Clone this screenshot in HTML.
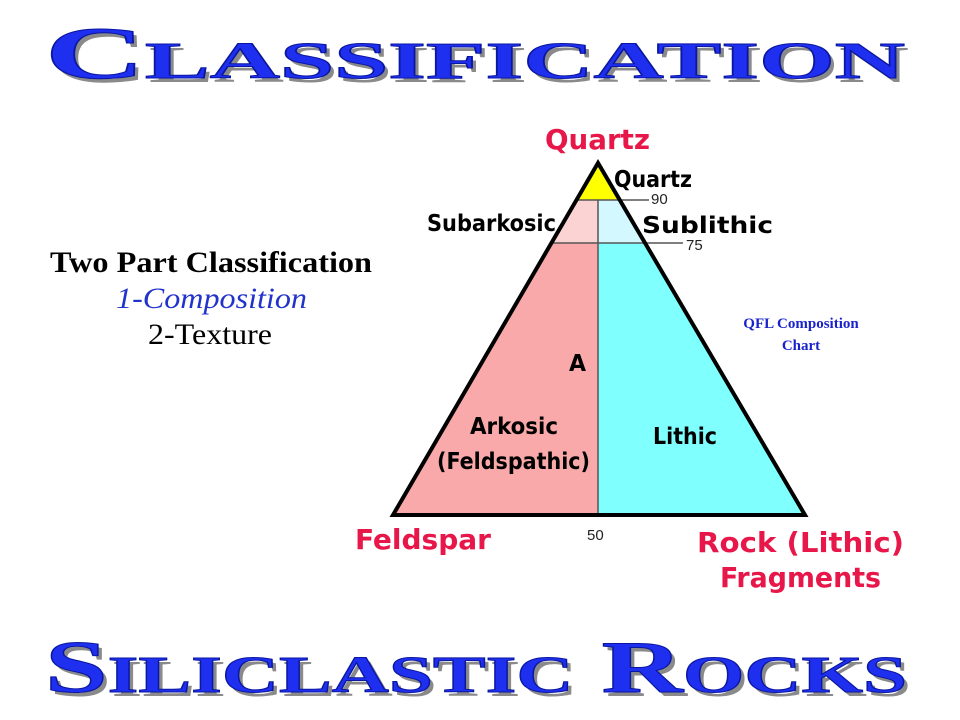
<!DOCTYPE html>
<html><head><meta charset="utf-8"><style>
html,body{margin:0;padding:0;background:#fff;}
svg{display:block;}
</style></head><body>
<svg width="960" height="720" viewBox="0 0 960 720" xmlns="http://www.w3.org/2000/svg">
<rect width="960" height="720" fill="#fff"/>
<!-- titles -->
<g font-family="Liberation Serif, serif" font-weight="bold" font-size="74">
<text x="49" y="82" fill="#8a8a8a" textLength="860" lengthAdjust="spacingAndGlyphs" style="font-variant:small-caps">Classification</text>
<text x="45" y="78" fill="#1f2ff0" stroke="#0a17a0" stroke-width="1" textLength="860" lengthAdjust="spacingAndGlyphs" style="font-variant:small-caps">Classification</text>
<text x="49" y="696" fill="#8a8a8a" textLength="862" lengthAdjust="spacingAndGlyphs" style="font-variant:small-caps">Siliclastic Rocks</text>
<text x="45" y="692" fill="#1f2ff0" stroke="#0a17a0" stroke-width="1" textLength="862" lengthAdjust="spacingAndGlyphs" style="font-variant:small-caps">Siliclastic Rocks</text>
</g>
<!-- left text -->
<g font-family="Liberation Serif, serif" font-size="30">
<text x="50" y="272" font-weight="bold" fill="#000" textLength="322" lengthAdjust="spacingAndGlyphs">Two Part Classification</text>
<text x="116" y="308" font-style="italic" fill="#2233cc" textLength="191" lengthAdjust="spacingAndGlyphs">1-Composition</text>
<text x="148" y="344" fill="#000" textLength="124" lengthAdjust="spacingAndGlyphs">2-Texture</text>
</g>
<g font-family="Liberation Serif, serif" font-size="15" font-weight="bold" fill="#1a22cc" text-anchor="middle">
<text x="801" y="328">QFL Composition</text>
<text x="801" y="350">Chart</text>
</g>
<!-- triangle fills -->
<polygon points="598,163 576.5,200 619.8,200" fill="#ffff00"/>
<polygon points="576.5,200 598,200 598,243 551.4,243" fill="#fcd3d3"/>
<polygon points="598,200 619.8,200 645,243 598,243" fill="#d4f8ff"/>
<polygon points="551.4,243 598,243 598,515 393,515" fill="#f9a9a9"/>
<polygon points="598,243 645,243 805,515 598,515" fill="#80ffff"/>
<g stroke="#555" stroke-width="1.5">
<line x1="577" y1="200" x2="619" y2="200"/>
<line x1="552" y1="243" x2="644" y2="243"/>
<line x1="598" y1="200" x2="598" y2="515"/>
<line x1="620" y1="200" x2="649" y2="200"/>
<line x1="644" y1="243" x2="683" y2="243"/>
</g>
<polygon points="598,163 393,515 805,515" fill="none" stroke="#000" stroke-width="4" stroke-linejoin="miter"/>
<!-- labels -->
<g font-family="DejaVu Sans Condensed, DejaVu Sans, sans-serif" font-weight="bold" fill="#e8174a" font-size="28">
<text x="545" y="149" textLength="105" lengthAdjust="spacingAndGlyphs">Quartz</text>
<text x="355" y="549" textLength="136" lengthAdjust="spacingAndGlyphs">Feldspar</text>
<text x="697" y="552" textLength="207" lengthAdjust="spacingAndGlyphs">Rock (Lithic)</text>
<text x="720" y="587" textLength="161" lengthAdjust="spacingAndGlyphs">Fragments</text>
</g>
<g font-family="DejaVu Sans Condensed, DejaVu Sans, sans-serif" font-weight="bold" fill="#000" font-size="23">
<text x="614" y="187" textLength="78" lengthAdjust="spacingAndGlyphs">Quartz</text>
<text x="427" y="231" textLength="129" lengthAdjust="spacingAndGlyphs">Subarkosic</text>
<text x="642" y="233" textLength="131" lengthAdjust="spacingAndGlyphs">Sublithic</text>
<text x="569" y="371" textLength="17" lengthAdjust="spacingAndGlyphs">A</text>
<text x="470" y="434" textLength="88" lengthAdjust="spacingAndGlyphs">Arkosic</text>
<text x="437" y="469" textLength="153" lengthAdjust="spacingAndGlyphs">(Feldspathic)</text>
<text x="653" y="444" textLength="64" lengthAdjust="spacingAndGlyphs">Lithic</text>
</g>
<g font-family="Liberation Sans, sans-serif" fill="#222" font-size="15">
<text x="651" y="204">90</text>
<text x="686" y="250">75</text>
<text x="587" y="540">50</text>
</g>
</svg>
</body></html>
